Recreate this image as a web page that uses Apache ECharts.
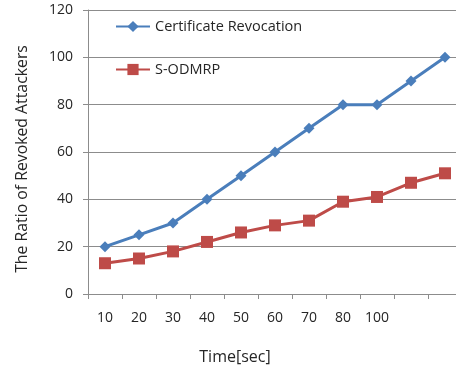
<!DOCTYPE html>
<html>
<head>
<meta charset="utf-8">
<script src="https://cdn.jsdelivr.net/npm/echarts@6/dist/echarts.min.js"></script>
<style>
  html, body { margin: 0; padding: 0; background: #fff; }
  #chart { width: 456px; height: 368px; }
</style>
</head>
<body>
<div id="chart"></div>
<script>
// Time categories (the last two slots carry no label)
const categories = ['10', '20', '30', '40', '50', '60', '70', '80', '100', '', ''];
// Ratio of revoked attackers per scheme
const certRevocation = [20, 25, 30, 40, 50, 60, 70, 80, 80, 90, 100];
const sOdmrp = [13, 15, 18, 22, 26, 29, 31, 39, 41, 47, 51];
const yTicks = { min: 0, max: 120, interval: 20 };

const font = '"Open Sans", Lato, sans-serif';
const gridColor = '#8c8c8c';
const textColor = '#262626';

const chart = echarts.init(document.getElementById('chart'), null, { renderer: 'canvas' });
chart.setOption({
  animation: false,
  backgroundColor: '#fff',
  grid: { left: 88, top: 10, right: -6, bottom: 74, containLabel: false, outerBoundsMode: 'none' },
  legend: [
    {
      data: ['Certificate Revocation'],
      left: 110, top: 14, itemWidth: 34, itemHeight: 14,
      textStyle: { fontFamily: font, fontSize: 14.5, color: textColor }
    },
    {
      data: ['S-ODMRP'],
      left: 110, top: 57, itemWidth: 34, itemHeight: 14,
      textStyle: { fontFamily: font, fontSize: 14.5, color: textColor }
    }
  ],
  xAxis: {
    type: 'category',
    data: categories,
    boundaryGap: true,
    name: 'Time[sec]',
    nameLocation: 'middle',
    nameGap: 55,
    nameTextStyle: { fontFamily: font, fontSize: 16, color: textColor, padding: [0, 80, 0, 0] },
    axisLine: { lineStyle: { color: gridColor, width: 1 } },
    axisTick: { show: true, alignWithLabel: false, length: 5, lineStyle: { color: gridColor } },
    axisLabel: { fontFamily: font, fontSize: 14, color: textColor, margin: 17, interval: 0 },
    splitLine: { show: false }
  },
  yAxis: {
    type: 'value',
    min: yTicks.min, max: yTicks.max, interval: yTicks.interval,
    name: 'The Ratio of Revoked Attackers',
    nameLocation: 'middle',
    nameGap: 58,
    nameTextStyle: { fontFamily: font, fontSize: 15.8, color: textColor, padding: [0, 14, 0, 0] },
    axisLine: { show: true, lineStyle: { color: gridColor, width: 1 } },
    axisTick: { show: true, length: 5, lineStyle: { color: gridColor } },
    axisLabel: { fontFamily: font, fontSize: 14, color: textColor, margin: 15 },
    splitLine: { show: true, lineStyle: { color: gridColor, width: 1 } }
  },
  series: [
    {
      name: 'Certificate Revocation',
      type: 'line',
      data: certRevocation,
      symbol: 'diamond',
      symbolSize: 11,
      lineStyle: { color: '#4a7ebb', width: 3 },
      itemStyle: { color: '#4a7ebb' }
    },
    {
      name: 'S-ODMRP',
      type: 'line',
      data: sOdmrp,
      symbol: 'rect',
      symbolSize: 12,
      lineStyle: { color: '#be4b48', width: 3 },
      itemStyle: { color: '#be4b48' }
    }
  ]
});
</script>
</body>
</html>
